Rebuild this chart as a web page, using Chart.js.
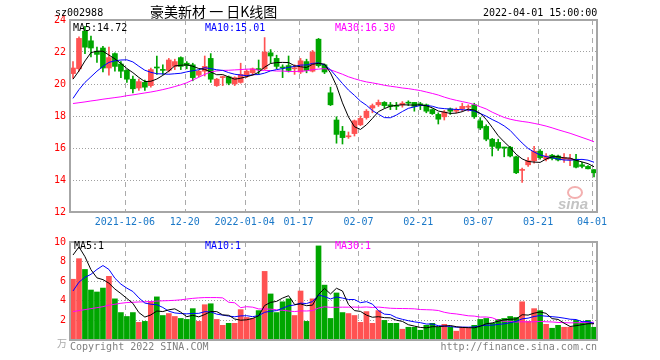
<!DOCTYPE html>
<html><head><meta charset="utf-8">
<script src="https://cdn.jsdelivr.net/npm/chart.js@4/dist/chart.umd.min.js"></script>
<style>
body{margin:0;background:#fff;width:660px;height:360px;overflow:hidden;position:relative;font-family:"DejaVu Sans Mono",monospace;}
.t{position:absolute;white-space:pre;font-size:10px;line-height:10px;}
canvas{position:absolute;left:0;}
</style></head><body>
<canvas id="p" width="660" height="232" style="top:0"></canvas>
<canvas id="v" width="660" height="128" style="top:232px"></canvas>
<div class="t" style="left:55px;top:8px;color:#000">sz002988</div>
<div class="t" style="left:150px;top:4px;font-family:'Noto Sans CJK SC';font-size:14px;line-height:14px;color:#000">豪美新材 一 日K线图</div>
<div class="t" style="left:483px;top:8px;color:#000">2022-04-01 15:00:00</div>
<div class="t" style="left:73px;top:23px;color:#000">MA5:14.72</div>
<div class="t" style="left:205px;top:23px;color:#0000ff">MA10:15.01</div>
<div class="t" style="left:335px;top:23px;color:#ff00ff">MA30:16.30</div>
<div class="t" style="left:74px;top:241px;color:#000">MA5:1</div>
<div class="t" style="left:205px;top:241px;color:#0000ff">MA10:1</div>
<div class="t" style="left:335px;top:241px;color:#ff00ff">MA30:1</div>
<div class="t" style="left:57px;top:338px;color:#aaa;font-family:'Noto Sans CJK SC';font-size:10px">万</div>
<div class="t" style="left:70px;top:342px;color:#808080">Copyright 2022 SINA.COM</div>
<div class="t" style="right:63px;top:342px;color:#808080">http://finance.sina.com.cn</div>
<div style="position:absolute;left:567px;top:186px;width:12px;height:9px;border:2px solid #f3b0b0;border-radius:50%"></div>
<div class="t" style="left:558px;top:196px;font-family:'Liberation Sans';font-weight:bold;font-style:italic;font-size:15px;line-height:15px;color:#c4c4c4">sina</div>
<script>
const dates = ["2021-11-23","2021-11-24","2021-11-25","2021-11-26","2021-11-29","2021-11-30","2021-12-01","2021-12-02","2021-12-03","2021-12-06",
"2021-12-07","2021-12-08","2021-12-09","2021-12-10","2021-12-13","2021-12-14","2021-12-15","2021-12-16","2021-12-17","2021-12-20",
"2021-12-21","2021-12-22","2021-12-23","2021-12-24","2021-12-27","2021-12-28","2021-12-29","2021-12-30","2021-12-31","2022-01-04",
"2022-01-05","2022-01-06","2022-01-07","2022-01-10","2022-01-11","2022-01-12","2022-01-13","2022-01-14","2022-01-17","2022-01-18",
"2022-01-19","2022-01-20","2022-01-21","2022-01-24","2022-01-25","2022-01-26","2022-01-27","2022-01-28","2022-02-07","2022-02-08",
"2022-02-09","2022-02-10","2022-02-11","2022-02-14","2022-02-15","2022-02-16","2022-02-17","2022-02-18","2022-02-21","2022-02-22",
"2022-02-23","2022-02-24","2022-02-25","2022-02-28","2022-03-01","2022-03-02","2022-03-03","2022-03-04","2022-03-07","2022-03-08",
"2022-03-09","2022-03-10","2022-03-11","2022-03-14","2022-03-15","2022-03-16","2022-03-17","2022-03-18","2022-03-21","2022-03-22",
"2022-03-23","2022-03-24","2022-03-25","2022-03-28","2022-03-29","2022-03-30","2022-03-31","2022-04-01"];
const tickDates = ["2021-12-06","2021-12-20","2022-01-04","2022-01-17","2022-02-07","2022-02-21","2022-03-07","2022-03-21","2022-04-01"];
const tickText = ["2021-12-06","12-20","2022-01-04","01-17","02-07","02-21","03-07","03-21","04-01"];
const priceTicks = [12,14,16,18,20,22,24];
const priceTickText = ["12","14","16","18","20","22","24"];
const volTicks = [0,2,4,6,8,10];
const volTickText = ["","2","4","6","8","10"];

const open = [20.65,20.95,23.3,22.7,22.05,22.25,21.0,21.9,21.25,20.85,
20.3,19.75,20.1,19.9,21.05,20.9,20.85,21.1,21.65,21.3,
21.2,20.55,20.8,21.6,19.9,20.4,20.45,20.0,20.1,20.5,
20.7,20.95,20.95,21.95,21.6,21.05,21.15,20.95,20.75,21.4,
20.8,22.8,21.2,19.45,17.75,17.05,16.7,16.9,17.45,17.9,
18.5,18.7,18.85,18.7,18.65,18.7,18.85,18.85,18.75,18.7,
18.4,18.1,17.95,18.45,18.3,18.45,18.55,18.7,17.7,17.35,
16.55,16.35,16.05,16.05,15.45,14.6,14.95,15.2,15.8,15.3,
15.55,15.5,15.3,15.25,15.3,14.95,14.85,14.65];
const high = [21.4,22.95,23.6,23.0,22.3,22.35,22.3,21.95,21.4,20.9,
20.5,20.3,20.25,21.0,21.75,21.2,21.6,21.55,21.7,21.4,
21.3,20.85,21.75,21.9,20.35,20.5,20.5,20.45,21.3,20.9,
21.0,21.5,22.9,22.15,21.8,21.2,21.75,21.2,21.6,21.55,
22.1,22.85,21.25,19.8,17.95,17.35,17.0,17.75,18.0,18.4,
18.75,19.0,18.9,18.85,18.85,18.9,18.95,18.85,18.85,18.75,
18.45,18.2,18.35,18.5,18.5,18.8,18.7,18.8,17.9,17.45,
16.6,16.55,16.05,16.1,15.5,14.75,15.4,16.1,15.9,15.65,
15.6,15.55,15.65,15.6,15.6,15.1,14.9,14.65];
const low = [20.35,20.8,21.9,21.7,21.35,20.75,20.55,20.8,20.4,20.1,
19.45,19.6,19.6,19.8,20.6,20.6,20.75,20.9,20.9,20.95,
20.2,20.45,20.5,20.1,19.85,19.9,19.95,19.9,20.05,20.4,
20.55,20.6,20.9,21.3,20.95,20.4,20.75,20.6,20.65,20.7,
20.75,21.05,20.65,18.65,16.3,16.25,16.6,16.75,17.4,17.8,
18.2,18.6,18.5,18.4,18.4,18.55,18.65,18.3,18.4,18.2,
18.1,17.5,17.75,18.1,18.2,18.3,18.3,17.85,17.15,16.45,
15.5,15.85,15.45,15.45,14.4,13.85,14.85,15.05,15.3,15.2,
15.25,15.2,15.1,14.9,14.75,14.75,14.7,14.2];
const close = [21.0,22.85,22.3,22.25,21.85,21.0,21.65,21.1,20.8,20.3,
19.7,20.15,19.8,20.9,21.0,20.85,21.5,21.4,21.1,21.15,
20.4,20.8,21.1,20.3,20.3,20.45,20.05,20.4,20.6,20.8,
20.95,20.9,22.0,21.75,21.1,21.0,20.85,21.0,21.45,20.85,
22.0,21.15,20.75,18.7,16.85,16.65,16.75,17.7,17.85,18.3,
18.65,18.85,18.65,18.6,18.6,18.8,18.8,18.6,18.7,18.3,
18.15,17.8,18.25,18.3,18.4,18.6,18.6,17.95,17.25,16.55,
16.1,16.0,16.0,15.5,14.45,14.65,15.2,15.8,15.4,15.5,
15.35,15.25,15.4,15.35,14.8,14.85,14.7,14.45];
const ma5 = [20.3,20.82,21.44,21.96,22.05,22.05,21.81,21.57,21.28,20.97,
20.71,20.41,20.15,20.17,20.31,20.54,20.81,21.13,21.17,21.2,
21.11,20.97,20.91,20.75,20.58,20.59,20.44,20.3,20.36,20.46,
20.56,20.73,21.05,21.28,21.34,21.35,21.34,21.14,21.08,21.03,
21.23,21.29,21.24,20.69,19.89,18.82,17.94,17.33,17.16,17.45,
17.85,18.27,18.46,18.61,18.67,18.7,18.69,18.68,18.7,18.64,
18.51,18.31,18.24,18.16,18.18,18.27,18.43,18.37,18.16,17.79,
17.29,16.77,16.38,16.03,15.61,15.32,15.16,15.12,15.1,15.31,
15.45,15.46,15.38,15.37,15.23,15.13,15.02,14.83];
const ma10 = [19.1,19.65,20.1,20.45,20.8,21.1,21.35,21.45,21.5,21.51,
21.38,21.11,20.86,20.73,20.64,20.63,20.61,20.64,20.67,20.76,
20.83,20.89,21.02,20.96,20.89,20.85,20.71,20.61,20.56,20.52,
20.58,20.59,20.68,20.82,20.9,20.96,21.04,21.1,21.18,21.19,
21.29,21.32,21.19,20.89,20.46,20.03,19.62,19.29,18.93,18.67,
18.34,18.11,17.9,17.89,18.06,18.28,18.48,18.57,18.66,18.66,
18.61,18.5,18.46,18.43,18.41,18.39,18.37,18.31,18.16,17.99,
17.78,17.6,17.38,17.1,16.7,16.31,15.97,15.75,15.57,15.46,
15.39,15.31,15.25,15.24,15.27,15.29,15.24,15.11];
const ma30 = [18.78,18.83,18.88,18.94,18.99,19.05,19.1,19.15,19.2,19.27,
19.32,19.38,19.44,19.5,19.57,19.65,19.74,19.84,19.95,20.08,
20.25,20.42,20.6,20.75,20.82,20.85,20.86,20.88,20.9,20.93,
20.93,20.86,20.85,20.84,20.81,20.81,20.78,20.78,20.8,20.82,
20.9,20.93,20.96,20.89,20.75,20.61,20.45,20.33,20.22,20.13,
20.07,20.0,19.92,19.86,19.81,19.75,19.71,19.65,19.59,19.5,
19.41,19.31,19.18,19.07,18.98,18.9,18.82,18.72,18.58,18.44,
18.24,18.07,17.91,17.8,17.72,17.66,17.61,17.54,17.46,17.37,
17.26,17.14,17.03,16.92,16.79,16.66,16.53,16.39];
const volume = [6.2,8.3,7.2,5.1,4.9,5.3,6.5,4.2,2.8,2.4,
2.8,1.8,1.9,3.9,4.4,2.5,2.7,2.4,2.2,2.1,
3.2,1.9,3.6,3.7,2.1,1.5,1.7,1.7,3.1,2.3,
2.2,3.0,7.0,4.7,2.8,3.9,4.2,2.5,5.0,1.9,
4.2,9.6,5.6,2.2,4.8,2.8,2.7,2.5,1.8,2.9,
1.7,3.0,2.0,1.7,1.7,1.1,1.3,1.3,1.0,1.5,
1.7,1.3,1.6,1.3,0.9,1.3,1.2,1.5,2.1,2.2,
1.7,2.1,2.2,2.4,2.3,3.9,1.9,3.2,3.0,1.6,
1.2,1.5,1.3,1.3,2.0,1.7,2.0,1.3];
const volMa5 = [8.67,9.5,8.5,7.17,6.34,6.16,5.8,5.2,4.74,4.24,
3.74,2.8,2.34,2.56,2.96,2.9,3.08,3.18,2.84,2.38,
2.52,2.36,2.6,2.9,2.9,2.56,2.52,2.14,2.02,2.06,
2.2,2.46,3.52,3.84,3.94,4.28,4.52,3.62,3.68,3.5,
3.56,4.64,5.26,4.7,5.28,5.0,3.62,3.0,2.92,2.54,
2.32,2.38,2.28,2.26,2.02,1.9,1.56,1.42,1.28,1.24,
1.36,1.36,1.42,1.48,1.36,1.28,1.26,1.24,1.4,1.66,
1.74,1.92,2.06,2.12,2.14,2.58,2.54,2.74,2.86,2.72,
2.18,2.1,1.72,1.38,1.46,1.56,1.66,1.66];
const volMa10 = [5.0,5.9,6.4,6.7,7.2,7.6,7.2,6.3,5.7,5.29,
4.95,4.3,3.77,3.65,3.6,3.32,2.94,2.76,2.7,2.67,
2.71,2.72,2.89,2.87,2.64,2.54,2.44,2.37,2.46,2.48,
2.38,2.49,2.83,2.93,3.0,3.24,3.49,3.57,3.76,3.72,
3.92,4.58,4.44,4.19,4.39,4.28,4.13,4.13,3.81,3.91,
3.66,3.0,2.64,2.59,2.28,2.11,1.97,1.85,1.77,1.63,
1.63,1.46,1.42,1.38,1.3,1.32,1.31,1.33,1.44,1.51,
1.51,1.59,1.65,1.76,1.9,2.16,2.23,2.4,2.49,2.43,
2.38,2.32,2.23,2.12,2.09,1.87,1.88,1.69];
const volMa30 = [2.9,3.0,3.1,3.2,3.3,3.4,3.55,3.65,3.75,3.82,
3.85,3.88,3.9,3.93,3.97,4.0,4.02,4.05,4.1,4.18,
4.25,4.3,4.33,4.33,4.33,4.3,3.85,3.8,3.3,3.4,
3.35,3.17,3.16,3.15,3.08,3.03,2.96,2.9,2.97,2.96,
3.0,3.26,3.39,3.33,3.34,3.35,3.35,3.36,3.34,3.37,
3.32,3.36,3.3,3.24,3.22,3.21,3.2,3.18,3.11,3.09,
3.07,3.01,2.83,2.72,2.66,2.57,2.47,2.44,2.34,2.35,
2.27,2.02,1.9,1.91,1.83,1.86,1.84,1.86,1.9,1.86,
1.84,1.79,1.77,1.75,1.76,1.78,1.81,1.81];

const RED = '#ff5252', GREEN = '#00a600';
const colors = close.map((c, i) => c >= open[i] ? RED : GREEN);
const bodies = open.map((o, i) => [o, close[i]]);
const wicks = low.map((l, i) => [l, high[i]]);
const tickIdx = new Map(tickDates.map((d, k) => [dates.indexOf(d), tickText[k]]));
const FONT = {family: 'DejaVu Sans Mono', size: 10};
const TRANSP = 'rgba(0,0,0,0)';

const frame = {id: 'frame', afterDraw(c) {
  const {ctx, chartArea: a} = c;
  ctx.save(); ctx.strokeStyle = '#a6a6a6'; ctx.lineWidth = 2;
  ctx.strokeRect(a.left, a.top, a.right - a.left, a.bottom - a.top); ctx.restore();
}};
// dashed date grid lines, placed with the x scale's own tick pixels
const dateGrid = {id: 'dateGrid', beforeDatasetsDraw(c) {
  const xs = c.scales.x, a = c.chartArea, ctx = c.ctx;
  ctx.save(); ctx.strokeStyle = '#ababab'; ctx.lineWidth = 1; ctx.setLineDash([5, 4]);
  tickIdx.forEach((t, i) => {
    const x = Math.round(xs.getPixelForTick(i) - 2) + 0.5;
    ctx.beginPath(); ctx.moveTo(x, a.top); ctx.lineTo(x, a.bottom); ctx.stroke();
  });
  ctx.restore();
}};

function lineDs(data, color) {
  return {type: 'line', data, borderColor: color, borderWidth: 1, pointRadius: 0, tension: 0, order: 0, fill: false};
}
function xScale(showLabels) {
  return {
    offset: true,
    grid: {display: true, drawOnChartArea: false, drawTicks: false, color: TRANSP},
    border: {display: false},
    ticks: {autoSkip: false, maxRotation: 0, minRotation: 0, padding: 4, labelOffset: -2,
      color: '#1a78c8', font: FONT,
      callback: (v, i) => showLabels && tickIdx.has(i) ? tickIdx.get(i) : ''},
    afterFit: s => { s.height = 20; }
  };
}
function yScale(min, max, ticks, texts) {
  const gc = ticks.map(v => (v > min && v < max) ? '#a0a0a0' : TRANSP);
  return {
    min, max,
    afterBuildTicks: s => { s.ticks = ticks.map(v => ({value: v})); },
    grid: {display: true, drawOnChartArea: true, drawTicks: false, lineWidth: 1, color: gc},
    border: {display: false, dash: [1, 2]},
    ticks: {color: '#ff0000', font: FONT, padding: 4,
      callback: v => texts[ticks.indexOf(v)] ?? ''},
    afterFit: s => { s.width = 70; }
  };
}
const common = {responsive: false, animation: false, devicePixelRatio: 1,
  plugins: {legend: {display: false}, tooltip: {enabled: false}}};

new Chart(document.getElementById('p'), {
  type: 'bar',
  data: {labels: dates, datasets: [
    lineDs(ma5, '#000000'), lineDs(ma10, '#0000ff'), lineDs(ma30, '#ff00ff'),
    {type: 'bar', data: bodies, backgroundColor: colors, barThickness: 5, grouped: false, order: 1, minBarLength: 1},
    {type: 'bar', data: wicks, backgroundColor: colors, barThickness: 1, grouped: false, order: 2}
  ]},
  options: Object.assign({}, common, {
    layout: {padding: {left: 0, right: 63, top: 20, bottom: 0}},
    scales: {x: xScale(true), y: yScale(12, 24, priceTicks, priceTickText)}
  }),
  plugins: [dateGrid, frame]
});

new Chart(document.getElementById('v'), {
  type: 'bar',
  data: {labels: dates, datasets: [
    lineDs(volMa5, '#000000'), lineDs(volMa10, '#0000ff'), lineDs(volMa30, '#ff00ff'),
    {type: 'bar', data: volume, backgroundColor: colors, barThickness: 5, grouped: false, order: 1}
  ]},
  options: Object.assign({}, common, {
    layout: {padding: {left: 0, right: 63, top: 8, bottom: 0}},
    scales: {x: xScale(false), y: yScale(0, 10, volTicks, volTickText)}
  }),
  plugins: [dateGrid, frame]
});
</script>
</body></html>
